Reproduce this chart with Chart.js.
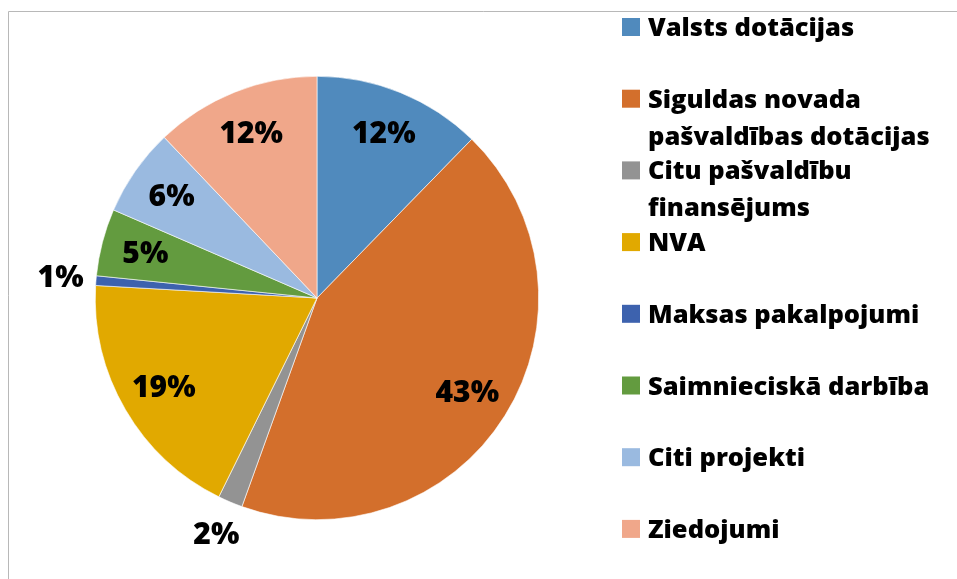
<!DOCTYPE html>
<html>
<head>
<meta charset="utf-8">
<script src="https://cdn.jsdelivr.net/npm/chart.js@4/dist/chart.umd.min.js"></script>
<style>
  html, body { margin: 0; padding: 0; background: #ffffff; }
  #wrap { position: relative; width: 957px; height: 579px; }
</style>
</head>
<body>
<div id="wrap"><canvas id="c" width="957" height="579"></canvas></div>
<script>
// ---- data ----
const categories = [
  ["Valsts dotācijas"],
  ["Siguldas novada", "pašvaldības dotācijas"],
  ["Citu pašvaldību", "finansējums"],
  ["NVA"],
  ["Maksas pakalpojumi"],
  ["Saimnieciskā darbība"],
  ["Citi projekti"],
  ["Ziedojumi"]
];
const shares = [12.3, 43.2, 1.8, 18.6, 0.7, 4.9, 6.4, 12.1];
const colors = ["#508ABD", "#D36F2C", "#939393", "#E1A900", "#3D62AE", "#639B3F", "#9ABAE0", "#F0A78A"];

const FONT = "'Open Sans', 'Noto Sans', sans-serif";

const frame = {
  id: 'frame',
  beforeDraw(chart) {
    const ctx = chart.ctx;
    ctx.save();
    ctx.strokeStyle = '#b8b8b8';
    ctx.lineWidth = 1;
    ctx.beginPath();
    ctx.moveTo(8.5, 600);
    ctx.lineTo(8.5, 11.5);
    ctx.lineTo(1000, 11.5);
    ctx.stroke();
    ctx.restore();
  }
};

const dataLabels = {
  id: 'dataLabels',
  afterDatasetsDraw(chart) {
    const ctx = chart.ctx;
    const ds = chart.data.datasets[0];
    const total = ds.data.reduce((a, b) => a + b, 0);
    const meta = chart.getDatasetMeta(0);
    ctx.save();
    ctx.fillStyle = '#000';
    ctx.font = "800 30px " + FONT;
    ctx.textAlign = 'center';
    ctx.textBaseline = 'middle';
    meta.data.forEach((arc, i) => {
      const p = arc.getProps(['x', 'y', 'startAngle', 'endAngle', 'outerRadius'], true);
      const pct = ds.data[i] / total * 100;
      const mid = (p.startAngle + p.endAngle) / 2;
      const f = pct < 3 ? 1.16 : 0.8;
      const x = p.x + Math.cos(mid) * p.outerRadius * f;
      const y = p.y + Math.sin(mid) * p.outerRadius * f;
      ctx.fillText(Math.round(pct) + '%', x, y + 1);
    });
    ctx.restore();
  }
};

const sideLegend = {
  id: 'sideLegend',
  afterDraw(chart) {
    const ctx = chart.ctx;
    const labels = chart.data.labels;
    const bg = chart.data.datasets[0].backgroundColor;
    ctx.save();
    ctx.font = "800 25.5px " + FONT;
    ctx.textAlign = 'left';
    ctx.textBaseline = 'alphabetic';
    labels.forEach((lines, i) => {
      const top = 18 + i * 71.7;
      ctx.fillStyle = bg[i];
      ctx.fillRect(622, top, 18, 18);
      ctx.fillStyle = '#000';
      lines.forEach((t, j) => {
        ctx.fillText(t, 648, top + 18 + j * 37);
      });
    });
    ctx.restore();
  }
};

new Chart(document.getElementById('c'), {
  type: 'pie',
  data: {
    labels: categories,
    datasets: [{
      data: shares,
      backgroundColor: colors,
      borderColor: '#ffffff',
      borderWidth: 0.6
    }]
  },
  options: {
    responsive: false,
    animation: false,
    layout: { padding: { left: 95, right: 418, top: 76, bottom: 59 } },
    plugins: {
      legend: { display: false },
      tooltip: { enabled: false }
    }
  },
  plugins: [frame, dataLabels, sideLegend]
});
</script>
</body>
</html>
